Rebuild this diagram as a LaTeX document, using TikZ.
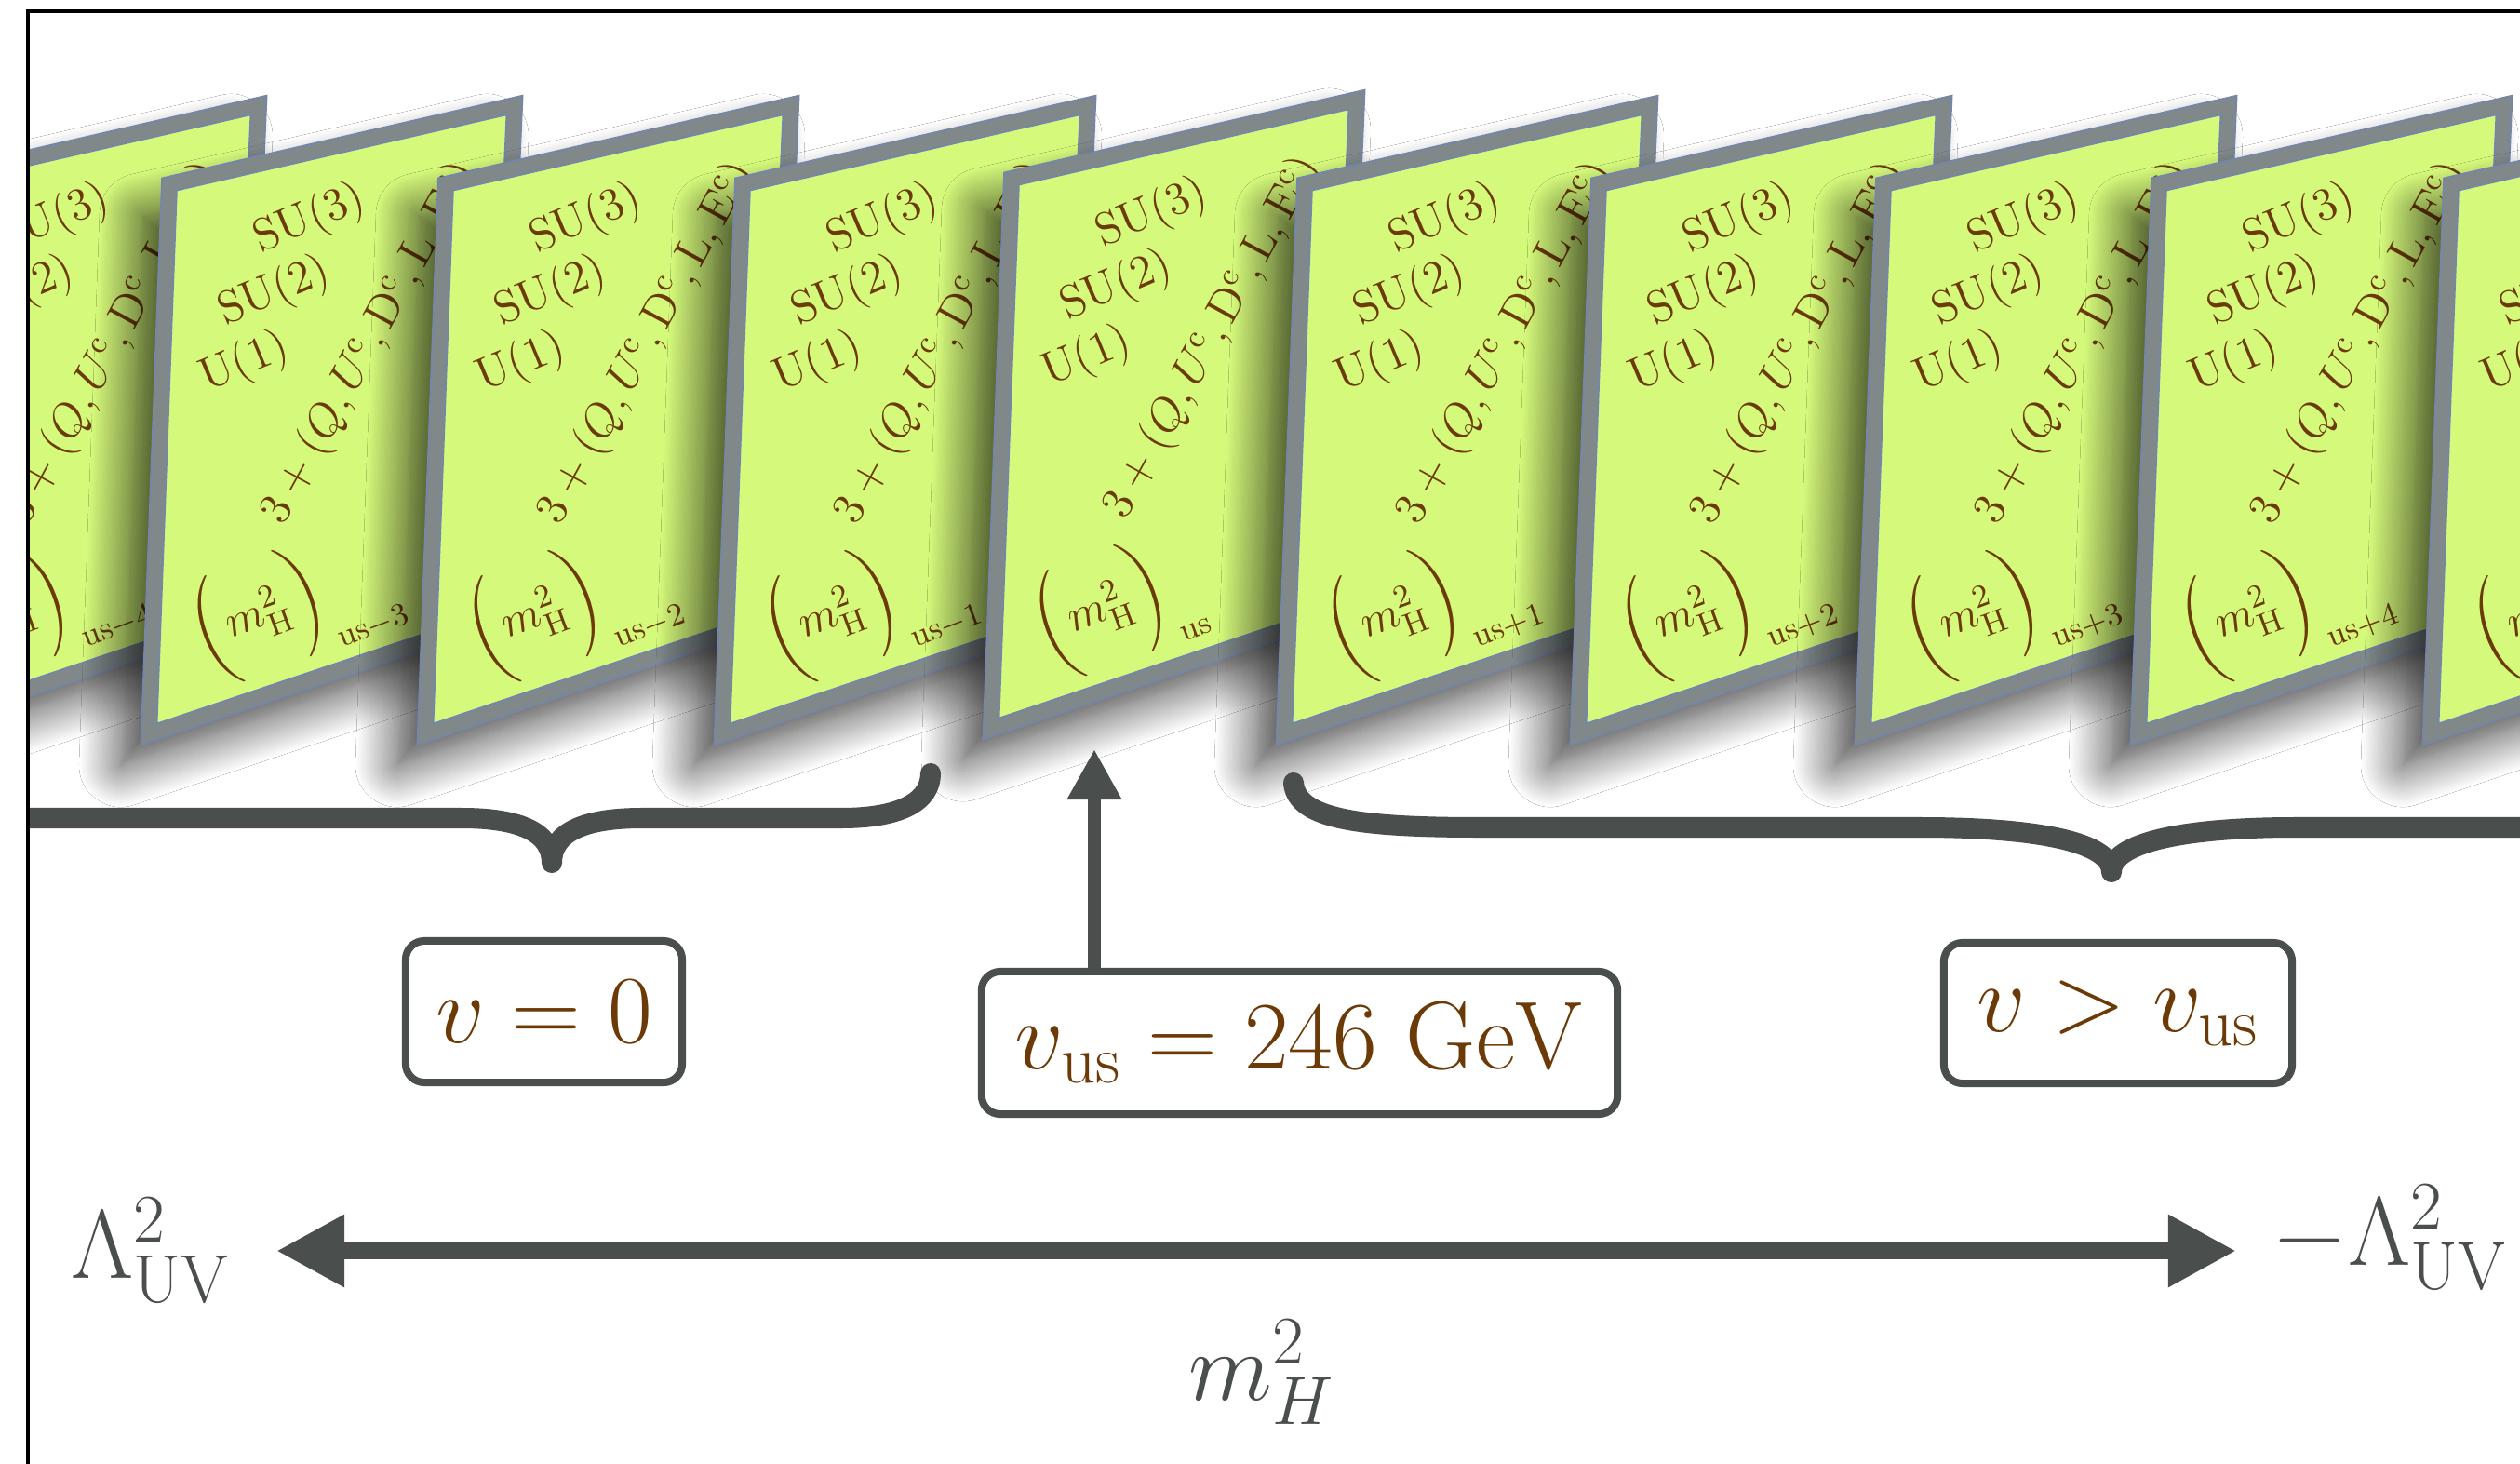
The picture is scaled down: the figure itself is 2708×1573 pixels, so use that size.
\RequirePackage{fix-cm}
\documentclass[tikz,border=0pt]{standalone}
\usepackage{amsmath}
\usetikzlibrary{arrows.meta,shadows.blur}
\definecolor{pgreen}{RGB}{213,249,123}
\definecolor{pborder}{RGB}{128,136,138}
\definecolor{pedge}{RGB}{118,134,168}
\definecolor{pbrown}{RGB}{107,58,6}
\definecolor{dgray}{RGB}{74,79,78}
\tikzset{
 ptext/.style={text=pbrown, inner sep=0pt, font=\fontsize{14}{16}\selectfont},
 panelshadow/.style={blur shadow={shadow xshift=-0.3cm, shadow yshift=-0.33cm, shadow blur radius=0.45cm, shadow opacity=78, shadow blur steps=20}},
 panelshape/.style={fill=pgreen, draw=pedge, double=pborder, double distance=0.14cm, line width=0.02cm, line join=miter},
 mainlbl/.style={text=dgray, inner sep=0pt, font=\fontsize{29.8}{36}\selectfont},
 valbox/.style={draw=dgray, line width=0.08cm, rounded corners=0.2cm, fill=white, text=pbrown, font=\fontsize{29.5}{36}\selectfont, inner sep=0pt},
 bracepath/.style={draw=dgray, line width=0.22cm, line cap=round, line join=round},
 axisarrow/.style={draw=dgray, line width=0.18cm, {Triangle[length=0.73cm,width=0.73cm]}-{Triangle[length=0.73cm,width=0.73cm]}},
 uparrow/.style={draw=dgray, line width=0.14cm, -{Triangle[length=0.54cm,width=0.55cm]}},
}
\newcommand\mypanel[4]{%
 \begin{scope}[shift={(#2,#3)}]
  \path[panelshadow] (1087,192) -- (1458,107) -- (1434,659) -- (1065,783) -- cycle;
  \path[panelshape] (1087,192) -- (1458,107) -- (1434,659) -- (1065,783) -- cycle;
  \node[ptext, rotate=22.6] (#1-a) at (1238,230) {SU(3)};
  \node[ptext, rotate=22.6] (#1-b) at (1200,308) {SU(2)};
  \node[ptext, rotate=22.6] (#1-c) at (1168,384) {U(1)};
  \node[ptext, rotate=61.3] (#1-d) at (1303,363) {$3+(Q,U^{\mathrm{c}},\mathrm{D}^{\mathrm{c}},\mathrm{L},\mathrm{E}^{\mathrm{c}})$};
  \node[ptext, rotate=20.3, anchor=base west] (#1-e) at (1118,693) {$\biggl(m^2_{\mathrm{H}}\biggr)_{\mathrm{#4}}$};
 \end{scope}}
\begin{document}
\begin{tikzpicture}[x=0.01cm, y=-0.01cm]
\useasboundingbox (0,0) rectangle (2708,1573);
\fill[white] (0,0) rectangle (2708,1573);
\begin{scope}
 \clip (30,12) rectangle (2708,1573);
 \mypanel{pmiv}{-1180}{6}{us-4}
 \mypanel{pmiii}{-905}{6}{us-3}
 \mypanel{pmii}{-608}{6}{us-2}
 \mypanel{pmi}{-289}{6}{us-1}
 \mypanel{pz}{0}{0}{us}
 \mypanel{ppi}{315}{6}{us+1}
 \mypanel{ppii}{631}{6}{us+2}
 \mypanel{ppiii}{937}{6}{us+3}
 \mypanel{ppiv}{1233}{6}{us+4}
 \mypanel{ppv}{1547}{6}{us+5}
 \draw[bracepath] (0,879) -- (496,879) .. controls (560,879) and (593,895) .. (593,927) .. controls (593,895) and (626,879) .. (690,879) -- (904,879) .. controls (970,879) and (1000,860) .. (1000,831);
 \draw[bracepath] (1390,841) .. controls (1393,880) and (1460,889) .. (1590,889) -- (2063,889) .. controls (2190,889) and (2269,905) .. (2269,937) .. controls (2269,905) and (2348,889) .. (2467,889) -- (2740,889);
\end{scope}
\draw[line width=0.04cm, black] (30,1573) -- (30,12) -- (2708,12);
\node[valbox, minimum width=2.97cm, minimum height=1.52cm] (b0) at (584.5,1087) {$v=0$};
\node[valbox, minimum width=6.83cm, minimum height=1.53cm] (bus) at (1396.5,1120.5) {$v_{\mathrm{us}}=246\ \mathrm{GeV}$};
\node[valbox, minimum width=3.74cm, minimum height=1.51cm] (bgt) at (2276,1088.5) {$v>v_{\mathrm{us}}$};
\coordinate (uptip) at (1176,805);
\draw[uparrow] (uptip |- bus.north) -- (uptip);
\coordinate (axL) at (297,1344);
\coordinate (axR) at (2403,1344);
\draw[axisarrow] (axL) -- (axR);
\node[mainlbl, anchor=base west] (lamL) at (76,1373) {$\Lambda^2_{\mathrm{UV}}$};
\node[mainlbl, anchor=base west] (lamR) at (2441,1359) {$-\Lambda^2_{\mathrm{UV}}$};
\node[mainlbl, anchor=base west] (mH) at (1277,1504) {$m^2_H$};
\end{tikzpicture}
\end{document}
